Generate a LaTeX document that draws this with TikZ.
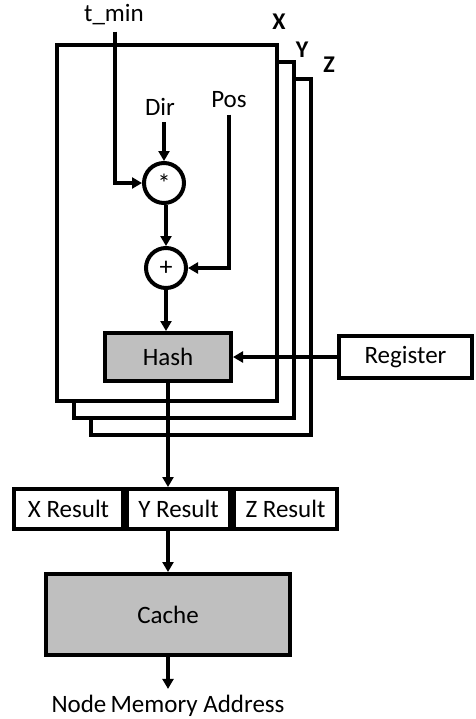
\documentclass[tikz,border=0pt]{standalone}
\usepackage{fontspec}
\setmainfont{Carlito}
\usetikzlibrary{positioning, arrows.meta}

\begin{document}
\begin{tikzpicture}[
  x=0.5pt, y=-0.5pt,
  font=\fontsize{12.5}{15}\selectfont,
  frame/.style={draw, line width=2pt, fill=white, minimum width=110pt,
                minimum height=178pt, inner sep=0pt},
  axis/.style={inner sep=1pt, font=\fontsize{12}{14}\selectfont\bfseries},
  op/.style={draw, circle, line width=2pt, fill=white, minimum size=20pt,
             inner sep=0pt, font=\fontsize{13}{15}\selectfont},
  unit/.style={draw, line width=2pt, fill=black!25, inner sep=0pt},
  plain/.style={draw, line width=2pt, fill=white, inner sep=0pt},
  cell/.style={draw, line width=2pt, minimum height=20pt, inner sep=0pt},
  lbl/.style={inner sep=3pt},
  arr/.style={-{Triangle[length=5pt, width=5.5pt]}, line width=1.6pt}]

\useasboundingbox (0,0) rectangle (476,719);

\node[frame] (fz) at (201,257) {};
\node[frame] (fy) at (184,240) {};
\node[frame] (fx) at (167,223) {};
\node[axis] (lx) at (279,22) {X};
\node[axis] (ly) at (302,50) {Y};
\node[axis] (lz) at (329,65) {Z};

\node[lbl] (tmin) at (114,15) {t\_min};
\node[lbl] (dir) at (160,107) {Dir};
\node[lbl] (pos) at (229,100) {Pos};
\node[op] (mul) at (164,183) {*};
\node[op] (add) at (166,268) {+};
\node[unit, minimum width=63pt, minimum height=24pt] (hash) at (168,357) {Hash};
\node[plain, minimum width=66.5pt, minimum height=21pt] (reg) at (405.5,357) {Register};

\node[cell, minimum width=54.5pt] (xres) at (68.5,509) {X Result};
\node[cell, minimum width=51.5pt, right=0pt of xres] (yres) {Y Result};
\node[cell, minimum width=51.5pt, right=0pt of yres] (zres) {Z Result};
\node[unit, minimum width=122pt, minimum height=40.5pt] (cache) at (168,614.5) {Cache};
\node[lbl] (addr) at (168,706) {Node\,Memory Address};

\draw[arr] (tmin.south -| 115,0) |- (mul.west);
\draw[arr] (dir.south -| mul.north) -- (mul.north);
\draw[arr] (mul.south -| add.north) -- (add.north);
\draw[arr] (pos.south) |- (add.east);
\draw[arr] (add.south) -- (add.south |- hash.north);
\draw[arr] (reg.west) -- (hash.east);
\draw[arr] (hash.south) -- (hash.south |- yres.north);
\draw[arr] (hash.south |- yres.south) -- (cache.north);
\draw[arr] (cache.south) -- (addr.north);
\end{tikzpicture}
\end{document}
